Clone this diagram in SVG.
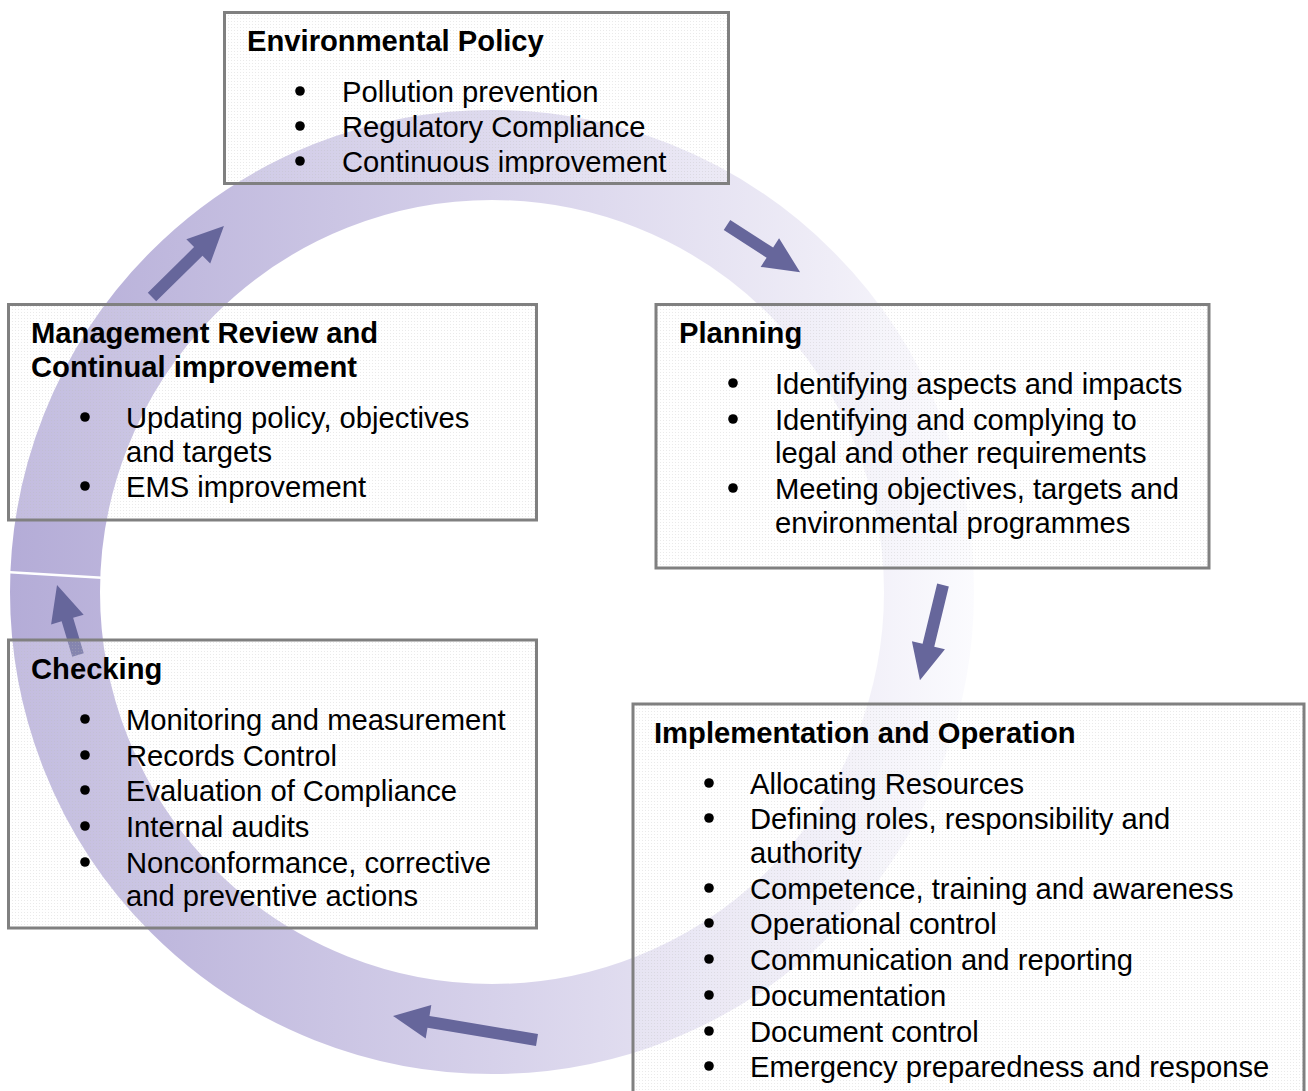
<svg xmlns="http://www.w3.org/2000/svg" width="1308" height="1091" viewBox="0 0 1308 1091">
<style>
.box{fill:url(#dots);stroke:#808080;stroke-width:3}
.t{font-family:"Liberation Sans",Arial,sans-serif;font-size:29.2px;fill:#000}
.h{font-weight:bold}
.dot{fill:#000}
.arr{fill:#66669b}
</style>
<defs>
<linearGradient id="ringGrad" gradientUnits="userSpaceOnUse" x1="10" y1="0" x2="975" y2="0">
<stop offset="0" stop-color="#b4acd7"/>
<stop offset="0.5" stop-color="#d6d1ea"/>
<stop offset="0.85" stop-color="#efedf7"/>
<stop offset="1" stop-color="#fbfbfe"/>
</linearGradient>
<pattern id="dots" width="3" height="3" patternUnits="userSpaceOnUse">
<rect width="3" height="3" fill="#ffffff" fill-opacity="0.2"/>
<rect width="1" height="1" fill="#bbbbbb" fill-opacity="0.3"/>
</pattern>
<clipPath id="clip1"><rect x="224" y="12" width="505" height="162"/></clipPath>
</defs>
<rect width="1308" height="1091" fill="#ffffff"/>
<g id="ring">
<circle cx="492" cy="592" r="437" fill="none" stroke="url(#ringGrad)" stroke-width="90"/>
<line x1="6" y1="572" x2="106" y2="578" stroke="#ffffff" stroke-width="2.5"/>
</g>
<g id="connectors">
<path class="arr" transform="translate(152,297) rotate(-44.6)" d="M0,-6 L65,-6 L65,-17 L101,0 L65,17 L65,6 L0,6 Z"/>
<path class="arr" transform="translate(727,225) rotate(32.8)" d="M0,-6 L51,-6 L51,-17 L87,0 L51,17 L51,6 L0,6 Z"/>
<path class="arr" transform="translate(943,585) rotate(103.6)" d="M0,-6 L62,-6 L62,-17 L98,0 L62,17 L62,6 L0,6 Z"/>
<path class="arr" transform="translate(537,1040) rotate(189.5)" d="M0,-6 L110,-6 L110,-17 L146,0 L110,17 L110,6 L0,6 Z"/>
<path class="arr" transform="translate(78,655) rotate(-106.7)" d="M0,-6 L37,-6 L37,-17 L73,0 L37,17 L37,6 L0,6 Z"/>
</g>
<g id="environmental-policy">
<rect class="box" x="224.5" y="12.5" width="504" height="171"/>
<g clip-path="url(#clip1)">
<text class="t h" x="247" y="51">Environmental Policy</text>
<circle class="dot" cx="300" cy="91" r="4.8"/>
<circle class="dot" cx="300" cy="126" r="4.8"/>
<circle class="dot" cx="300" cy="161" r="4.8"/>
<text class="t" x="342" y="102">Pollution prevention</text>
<text class="t" x="342" y="137">Regulatory Compliance</text>
<text class="t" x="342" y="172">Continuous improvement</text>
</g>
</g>
<g id="planning">
<rect class="box" x="656" y="304.5" width="553" height="263.5"/>
<text class="t h" x="679" y="343">Planning</text>
<circle class="dot" cx="733" cy="383" r="4.8"/>
<circle class="dot" cx="733" cy="419" r="4.8"/>
<circle class="dot" cx="733" cy="488" r="4.8"/>
<text class="t" x="775" y="394">Identifying aspects and impacts</text>
<text class="t" x="775" y="430">Identifying and complying to</text>
<text class="t" x="775" y="463">legal and other requirements</text>
<text class="t" x="775" y="499">Meeting objectives, targets and</text>
<text class="t" x="775" y="533">environmental programmes</text>
</g>
<g id="implementation-operation">
<rect class="box" x="633" y="704" width="671" height="420"/>
<text class="t h" x="654" y="743">Implementation and Operation</text>
<circle class="dot" cx="709" cy="783" r="4.8"/>
<circle class="dot" cx="709" cy="818" r="4.8"/>
<circle class="dot" cx="709" cy="888" r="4.8"/>
<circle class="dot" cx="709" cy="923" r="4.8"/>
<circle class="dot" cx="709" cy="959" r="4.8"/>
<circle class="dot" cx="709" cy="995" r="4.8"/>
<circle class="dot" cx="709" cy="1031" r="4.8"/>
<circle class="dot" cx="709" cy="1066" r="4.8"/>
<text class="t" x="750" y="794">Allocating Resources</text>
<text class="t" x="750" y="829">Defining roles, responsibility and</text>
<text class="t" x="750" y="863">authority</text>
<text class="t" x="750" y="899">Competence, training and awareness</text>
<text class="t" x="750" y="934">Operational control</text>
<text class="t" x="750" y="970">Communication and reporting</text>
<text class="t" x="750" y="1006">Documentation</text>
<text class="t" x="750" y="1042">Document control</text>
<text class="t" x="750" y="1077">Emergency preparedness and response</text>
</g>
<g id="management-review">
<rect class="box" x="8.5" y="304.5" width="528" height="215.5"/>
<text class="t h" x="31" y="343">Management Review and</text>
<text class="t h" x="31" y="377">Continual improvement</text>
<circle class="dot" cx="85" cy="417" r="4.8"/>
<circle class="dot" cx="85" cy="486" r="4.8"/>
<text class="t" x="126" y="428">Updating policy, objectives</text>
<text class="t" x="126" y="462">and targets</text>
<text class="t" x="126" y="497">EMS improvement</text>
</g>
<g id="checking">
<rect class="box" x="8.5" y="640" width="528" height="288"/>
<text class="t h" x="31" y="679">Checking</text>
<circle class="dot" cx="85" cy="719" r="4.8"/>
<circle class="dot" cx="85" cy="755" r="4.8"/>
<circle class="dot" cx="85" cy="790" r="4.8"/>
<circle class="dot" cx="85" cy="826" r="4.8"/>
<circle class="dot" cx="85" cy="862" r="4.8"/>
<text class="t" x="126" y="730">Monitoring and measurement</text>
<text class="t" x="126" y="766">Records Control</text>
<text class="t" x="126" y="801">Evaluation of Compliance</text>
<text class="t" x="126" y="837">Internal audits</text>
<text class="t" x="126" y="873">Nonconformance, corrective</text>
<text class="t" x="126" y="906">and preventive actions</text>
</g>
</svg>
